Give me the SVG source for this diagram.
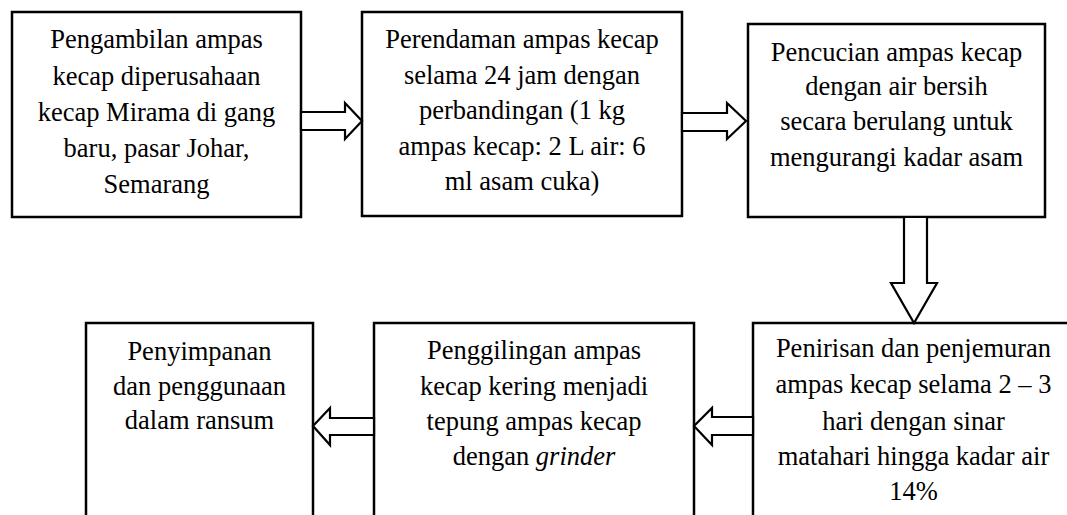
<svg xmlns="http://www.w3.org/2000/svg" width="1067" height="515" viewBox="0 0 1067 515">
<style>
.box{fill:#fff;stroke:#000;stroke-width:2.5}
.arr{fill:#fff;stroke:#000;stroke-width:2.2;stroke-linejoin:miter}
text{font-family:"Liberation Serif","Times New Roman",serif;font-size:26.5px;fill:#000;text-anchor:middle}
</style>
<rect width="1067" height="515" fill="#fff"/>
<g id="n1"><rect class="box" x="12" y="12" width="289" height="205"/>
<text x="156.5" y="48">Pengambilan ampas</text>
<text x="156.5" y="85">kecap diperusahaan</text>
<text x="156.5" y="121">kecap Mirama di gang</text>
<text x="156.5" y="157">baru, pasar Johar,</text>
<text x="156.5" y="193">Semarang</text></g>
<g id="n2"><rect class="box" x="362" y="12" width="320" height="204"/>
<text x="522" y="48">Perendaman ampas kecap</text>
<text x="522" y="84">selama 24 jam dengan</text>
<text x="522" y="119">perbandingan (1 kg</text>
<text x="522" y="155">ampas kecap: 2 L air: 6</text>
<text x="522" y="190">ml asam cuka)</text></g>
<g id="n3"><rect class="box" x="748" y="24" width="297" height="193"/>
<text x="896.5" y="61">Pencucian ampas kecap</text>
<text x="896.5" y="95">dengan air bersih</text>
<text x="896.5" y="130">secara berulang untuk</text>
<text x="896.5" y="166">mengurangi kadar asam</text></g>
<g id="n4"><rect class="box" x="753" y="323" width="330" height="210"/>
<text x="913.5" y="357">Penirisan dan penjemuran</text>
<text x="913.5" y="393">ampas kecap selama 2 – 3</text>
<text x="913.5" y="430">hari dengan sinar</text>
<text x="913.5" y="465">matahari hingga kadar air</text>
<text x="913.5" y="500">14%</text></g>
<g id="n5"><rect class="box" x="374" y="323" width="320" height="210"/>
<text x="534" y="359">Penggilingan ampas</text>
<text x="534" y="395">kecap kering menjadi</text>
<text x="534" y="430">tepung ampas kecap</text>
<text x="534" y="465">dengan <tspan font-style="italic">grinder</tspan></text></g>
<g id="n6"><rect class="box" x="86" y="323" width="227" height="210"/>
<text x="199.5" y="360">Penyimpanan</text>
<text x="199.5" y="395">dan penggunaan</text>
<text x="199.5" y="429">dalam ransum</text></g>
<g id="connectors">
<polygon class="arr" points="301,112 345,112 345,103 362,121 345,139 345,130 301,130"/>
<polygon class="arr" points="682,113 727,113 727,103 746,121 727,139 727,131 682,131"/>
<polygon class="arr" points="904,217 927,217 927,283 937,283 914,323 891,283 904,283"/>
<polygon class="arr" points="753,417 712,417 712,408 694,426 712,445 712,435 753,435"/>
<polygon class="arr" points="374,418 330,418 330,408 313,426 330,445 330,435 374,435"/>
</g>
</svg>
